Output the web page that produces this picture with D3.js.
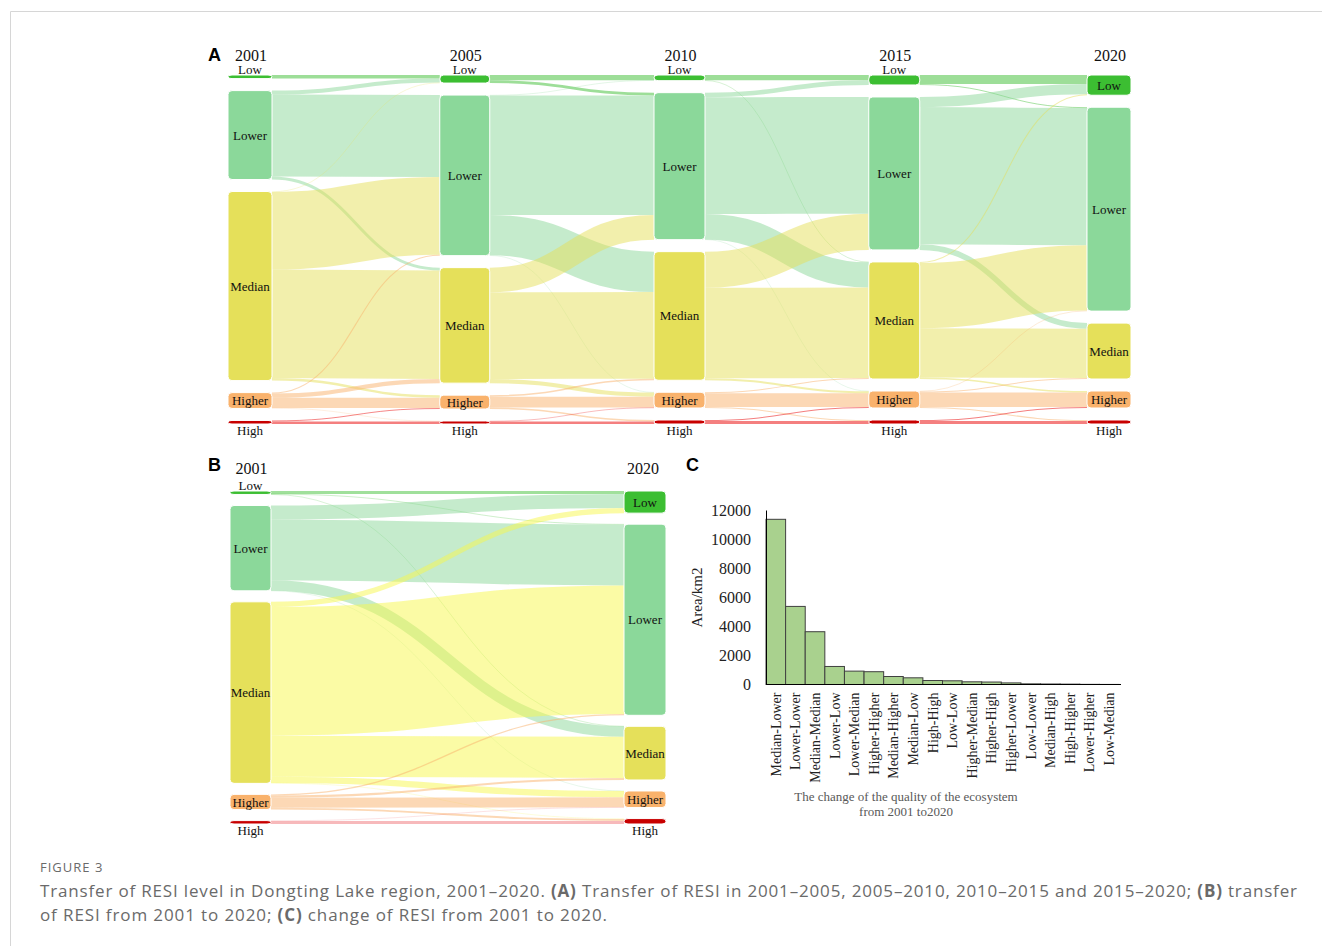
<!DOCTYPE html>
<html>
<head>
<meta charset="utf-8">
<script src="https://cdn.jsdelivr.net/npm/d3@7"></script>
<style>
  body { margin: 0; background: #fff; }
  svg text { font-family: "Liberation Serif", "Times New Roman", serif; }
  .cap { font-family: "Open Sans", sans-serif !important; fill: #6a6a6a; }
  .letter { font-family: "Liberation Sans", Arial, sans-serif !important; font-weight: bold; fill: #000; }
</style>
</head>
<body>
<svg id="fig" width="1322" height="946"></svg>
<script>
// RESI levels, low -> high
const levels = ["Low", "Lower", "Median", "Higher", "High"]
const yearsA = ["2001", "2005", "2010", "2015", "2020"]
const yearsB = ["2001", "2020"]

// transfer matrices for panel A, km2 (row = from level, column = to level)
const t0105 = [
  [305, 0, 0, 0, 0],
  [340, 6950, 250, 0, 0],
  [40, 6580, 9200, 215, 0],
  [0, 85, 345, 880, 35],
  [0, 0, 0, 80, 220]
]
const t0510 = [
  [440, 245, 0, 0, 0],
  [40, 10120, 3430, 25, 0],
  [0, 2100, 7345, 350, 0],
  [0, 0, 130, 915, 130],
  [0, 0, 0, 45, 210]
]
const t1015 = [
  [455, 0, 25, 0, 0],
  [390, 9900, 2155, 20, 0],
  [0, 3070, 7665, 170, 0],
  [0, 0, 85, 1165, 85],
  [0, 0, 0, 85, 255]
]
const t1520 = [
  [770, 75, 0, 0, 0],
  [860, 11640, 470, 0, 0],
  [85, 5530, 4185, 130, 0],
  [0, 45, 85, 1225, 85],
  [0, 0, 0, 85, 255]
]

// panel C: change 2001 -> 2020 (also feeds panel B)
const changeLabels = ["Median-Lower", "Lower-Lower", "Median-Median", "Lower-Low", "Lower-Median",
  "Higher-Higher", "Median-Higher", "Median-Low", "High-High", "Low-Low", "Higher-Median",
  "Higher-High", "Higher-Lower", "Low-Lower", "Median-High", "High-Higher", "Lower-Higher", "Low-Median"]
const changeArea = [11360, 5370, 3630, 1240, 920, 880, 550, 460, 275, 255, 185, 170, 110, 45, 35, 25, 10, 5]
const areaTicks = [0, 2000, 4000, 6000, 8000, 10000, 12000]

const nodeColor = ["#3cbe32", "#8bd89a", "#e5e05a", "#f9b26c", "#c80000"]
const linkColorA = ["#3cbe32", "#8bd89a", "#e5e05a", "#f9b26c", "#e90000"]
const linkColorB = ["#41c237", "#8bd89a", "#f7f74b", "#f9b26c", "#f07378"]

const svg = d3.select("#fig")

// card border
svg.append("path").attr("d", "M10.5,946 V11.5 H1322").attr("fill", "none").attr("stroke", "#d6d6d6")

function sankey(g, cols, mats, opt) {
  const nodes = cols.map((yr, c) => levels.map((lv, i) => {
    const out = c < mats.length ? d3.sum(mats[c][i]) : 0
    const inn = c > 0 ? d3.sum(mats[c - 1], row => row[i]) : 0
    return {col: c, idx: i, name: lv, value: Math.max(out, inn)}
  }))
  const colTotal = d3.max(nodes, col => d3.sum(col, d => d.value))
  const ky = d3.scaleLinear()
    .domain([0, colTotal])
    .range([0, opt.y1 - opt.y0 - (levels.length - 1) * opt.pad])
  const x = d3.scalePoint().domain(cols).range([opt.x0, opt.x1])

  nodes.forEach((col, c) => {
    let y = opt.y0
    col.forEach(n => {
      n.y0 = y
      n.y1 = y + ky(n.value)
      y = n.y1 + opt.pad
      n.x0 = x(cols[c]) - opt.widths[c] / 2
      n.x1 = n.x0 + opt.widths[c]
      n.outY = n.y0
      n.inY = n.y0
    })
  })

  const links = []
  mats.forEach((m, c) => {
    m.forEach((row, i) => row.forEach((v, j) => {
      if (!v) return
      const l = {source: nodes[c][i], target: nodes[c + 1][j], value: v, width: ky(v)}
      l.y0 = l.source.outY + l.width / 2
      l.source.outY += l.width
      l.y1 = l.target.inY + l.width / 2
      l.target.inY += l.width
      links.push(l)
    }))
  })

  const linkPath = d3.linkHorizontal()
    .source(d => [d.source.x1, d.y0])
    .target(d => [d.target.x0, d.y1])

  g.append("g")
    .selectAll("path")
    .data(links)
    .enter()
    .append("path")
      .attr("d", linkPath)
      .attr("fill", "none")
      .attr("stroke", d => opt.linkColor[d.source.idx])
      .attr("stroke-opacity", 0.5)
      .attr("stroke-width", d => Math.max(0.4, d.width))

  const allNodes = nodes.flat()
  g.append("g")
    .selectAll("rect")
    .data(allNodes)
    .enter()
    .append("rect")
      .attr("x", d => d.x0)
      .attr("y", d => d.y0)
      .attr("width", d => d.x1 - d.x0)
      .attr("height", d => Math.max(2, d.y1 - d.y0))
      .attr("rx", 4)
      .attr("fill", d => nodeColor[d.idx])
      .attr("stroke", "#fff")
      .attr("stroke-width", 1)

  g.append("g")
    .selectAll("text")
    .data(allNodes)
    .enter()
    .append("text")
      .attr("x", d => (d.x0 + d.x1) / 2)
      .attr("y", d => {
        if (d.y1 - d.y0 > 11) return (d.y0 + d.y1) / 2
        return d.idx === 0 ? d.y0 - 1.5 : d.y1 + 10.5
      })
      .attr("dy", d => d.y1 - d.y0 > 11 ? "0.35em" : 0)
      .attr("text-anchor", "middle")
      .attr("font-size", "13px")
      .attr("fill", "#111")
      .text(d => d.name)

  g.append("g")
    .selectAll("text")
    .data(cols)
    .enter()
    .append("text")
      .attr("x", (d, i) => x(d) + (opt.yearDx ? opt.yearDx[i] : 1))
      .attr("y", opt.yearY)
      .attr("text-anchor", "middle")
      .attr("font-size", "16px")
      .attr("fill", "#111")
      .text(d => d)
}

// panel A
const gA = svg.append("g")
sankey(gA, yearsA, [t0105, t0510, t1015, t1520], {
  x0: 250, x1: 1109, y0: 75, y1: 424, pad: 12,
  widths: [44, 50, 51, 51, 44], yearY: 61, linkColor: linkColorA
})
svg.append("text").attr("class", "letter").attr("x", 208).attr("y", 61).attr("font-size", "18px").text("A")

// panel B, built from the change list
const tB = levels.map(() => levels.map(() => 0))
changeLabels.forEach((lab, k) => {
  const [from, to] = lab.split("-")
  tB[levels.indexOf(from)][levels.indexOf(to)] = changeArea[k]
})
const gB = svg.append("g")
sankey(gB, yearsB, [tB], {
  x0: 250.5, x1: 645, y0: 491, y1: 824, pad: 11,
  widths: [41, 42], yearY: 473.5, yearDx: [1, -2], linkColor: linkColorB
})
svg.append("text").attr("class", "letter").attr("x", 208).attr("y", 471).attr("font-size", "18px").text("B")

// panel C
svg.append("text").attr("class", "letter").attr("x", 686).attr("y", 471).attr("font-size", "18px").text("C")

const cx = d3.scaleBand().domain(changeLabels).range([766, 1119]).padding(0)
const cy = d3.scaleLinear().domain([0, 12000]).range([684.5, 510])
const gC = svg.append("g")

gC.selectAll("rect")
  .data(changeLabels)
  .enter()
  .append("rect")
    .attr("x", d => cx(d))
    .attr("y", (d, i) => cy(changeArea[i]))
    .attr("width", cx.bandwidth())
    .attr("height", (d, i) => cy(0) - cy(changeArea[i]))
    .attr("fill", "#a9d18e")
    .attr("stroke", "#404040")
    .attr("stroke-width", 1)

const yAxis = gC.append("g")
  .attr("transform", "translate(766,0)")
  .call(d3.axisLeft(cy).tickValues(areaTicks).tickSize(0).tickPadding(15).tickFormat(d3.format("d")))
  .attr("font-family", "'Liberation Serif', serif")
yAxis.select(".domain").attr("stroke", "#000")
yAxis.selectAll("text").attr("font-size", "16px").attr("fill", "#222")
  .style("font-family", "'Liberation Serif', serif")

const xAxis = gC.append("g")
  .attr("transform", "translate(0,684.5)")
  .call(d3.axisBottom(cx).tickSize(0).tickPadding(0))
  .attr("font-family", "'Liberation Serif', serif")
xAxis.select(".domain").attr("stroke", "#000").attr("d", "M766,0H1121")
xAxis.selectAll("text")
  .attr("transform", "rotate(-90)")
  .attr("x", -8)
  .attr("y", 0)
  .attr("dy", "0.35em")
  .style("text-anchor", "end")
  .style("font-family", "'Liberation Serif', serif")
  .attr("font-size", "14px")
  .attr("fill", "#222")

gC.append("text")
  .attr("transform", "translate(702,597.5) rotate(-90)")
  .attr("text-anchor", "middle")
  .attr("font-size", "15px")
  .attr("fill", "#222")
  .text("Area/km2")

gC.append("text")
  .attr("x", 906).attr("y", 801)
  .attr("text-anchor", "middle")
  .attr("font-size", "13px")
  .attr("fill", "#595959")
  .text("The change of the quality of the ecosystem")
gC.append("text")
  .attr("x", 906).attr("y", 816)
  .attr("text-anchor", "middle")
  .attr("font-size", "13px")
  .attr("fill", "#595959")
  .text("from 2001 to2020")

// figure caption
svg.append("text").attr("class", "cap")
  .attr("x", 40).attr("y", 872)
  .attr("font-size", "13px")
  .attr("letter-spacing", "1px")
  .text("FIGURE 3")

const cap1 = svg.append("text").attr("class", "cap").attr("x", 40).attr("y", 897)
  .attr("font-size", "17px").attr("textLength", 1257).attr("lengthAdjust", "spacing")
cap1.append("tspan").text("Transfer of RESI level in Dongting Lake region, 2001–2020. ")
cap1.append("tspan").attr("font-weight", "bold").text("(A)")
cap1.append("tspan").text(" Transfer of RESI in 2001–2005, 2005–2010, 2010–2015 and 2015–2020; ")
cap1.append("tspan").attr("font-weight", "bold").text("(B)")
cap1.append("tspan").text(" transfer")

const cap2 = svg.append("text").attr("class", "cap").attr("x", 40).attr("y", 921)
  .attr("font-size", "17px").attr("textLength", 567).attr("lengthAdjust", "spacing")
cap2.append("tspan").text("of RESI from 2001 to 2020; ")
cap2.append("tspan").attr("font-weight", "bold").text("(C)")
cap2.append("tspan").text(" change of RESI from 2001 to 2020.")
</script>
</body>
</html>
